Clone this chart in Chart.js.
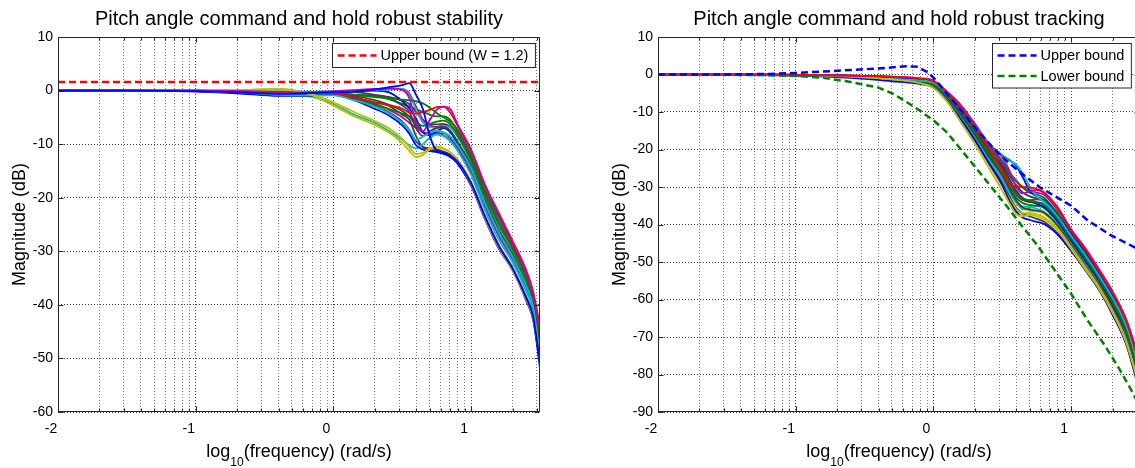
<!DOCTYPE html>
<html>
<head>
<meta charset="utf-8">
<title>Pitch angle command and hold</title>
<script src="https://cdn.jsdelivr.net/npm/chart.js@4.4.0/dist/chart.umd.min.js"></script>
<style>
  html, body { margin: 0; padding: 0; background: #fff; overflow: hidden; }
  body { width: 1135px; height: 468px; position: relative; }
  canvas { position: absolute; top: 0; }
  #stabilityChart { left: 0; }
  #trackingChart { left: 600px; }
</style>
</head>
<body>
<canvas id="stabilityChart" width="575" height="468"></canvas>
<canvas id="trackingChart" width="575" height="468"></canvas>
<script>
// ---- data ----
const xMajorTicks = [-2, -1, 0, 1];
const gridSubdivisions = [2, 3, 4, 5, 6, 7, 8, 9];
const xLabelParts = ['log', '10', '(frequency) (rad/s)'];

const stabilityYTicks = [10, 0, -10, -20, -30, -40, -50, -60];
const trackingYTicks = [10, 0, -10, -20, -30, -40, -50, -60, -70, -80, -90];

// log10(frequency) samples
const stabilityFreq = [-2, -1.5, -1, -0.7, -0.4, -0.2, 0, 0.15, 0.3, 0.4, 0.5, 0.55, 0.6, 0.65, 0.7, 0.75, 0.8, 0.85, 0.9, 1.0, 1.1, 1.2, 1.3, 1.4, 1.45, 1.5];
const stabilityCurves = [
  [0,0,-0.1,-0.3,-0.6,-0.5,-0.3,-0.2,0.2,0.6,1.0,1.4,-0.8,-3.5,-8.5,-11.2,-11.6,-12.2,-13.2,-17.3,-23.5,-29,-33.2,-38.7,-42.2,-50.5],
  [0,0,0,-0.1,-0.3,-0.4,-0.2,0,0.2,0.4,0.1,-1.3,-6.0,-7.6,-5.5,-3.6,-3.0,-3.5,-6.2,-11,-17.5,-22.8,-28,-33.5,-37.5,-44],
  [0,0,0,-0.1,-0.3,-0.4,-0.5,-1.3,-2.2,-2.7,-3.4,-4.1,-4.3,-4.0,-3.6,-3.1,-3.0,-4.2,-6.5,-11.3,-17.8,-23,-28.5,-34,-38,-44.5],
  [0,0,0,0.1,0.3,-0.5,-2.8,-4.8,-6.4,-7.8,-9.8,-11.2,-12.4,-12.0,-11.0,-10.6,-10.9,-11.6,-13.0,-17.5,-23.8,-29.3,-33.5,-39,-42.5,-50],
  [0,0,0,0.1,0.2,-0.4,-2.2,-4.0,-5.7,-7.0,-9.0,-10.5,-11.8,-11.6,-10.8,-10.4,-10.8,-11.5,-12.8,-17.2,-23.5,-29,-33.2,-38.8,-42.2,-49.5],
  [0,0,-0.1,-0.2,-0.3,-0.4,-0.4,-0.8,-1.2,-1.5,-1.7,-1.8,-2.0,-2.4,-3.2,-4.2,-5.0,-5.8,-7.2,-12,-18.3,-23.3,-28.5,-34,-38,-45],
  [0,0,-0.1,-0.3,-0.8,-0.9,-0.9,-1.8,-3.0,-4.2,-6.0,-7.3,-9.2,-8.6,-7.9,-7.5,-7.8,-8.6,-10.2,-14.5,-21,-26.5,-31,-36.5,-40.3,-49.5],
  [0,0,-0.1,-0.2,-0.4,-0.5,-0.5,-0.8,-1.0,-1.3,-2.8,-3.9,-7.0,-8.5,-7.6,-7.0,-6.8,-7.5,-9.5,-14,-20.5,-26,-30.5,-36,-39.8,-48],
  [0,0,-0.2,-0.5,-1.0,-1.0,-0.8,-1.8,-3.4,-4.6,-6.5,-8.0,-10.2,-11.0,-11.3,-11.5,-11.8,-12.4,-13.6,-17.8,-24,-29.5,-33.5,-39.2,-42.8,-51.5],
  [0,0,-0.1,-0.4,-0.9,-1.0,-2.5,-4.5,-6.0,-7.5,-9.2,-10.2,-10.8,-10.0,-8.8,-8.2,-8.5,-9.5,-11.2,-15.8,-22.3,-27.8,-32,-37.5,-41.2,-52],
  [0,0,-0.1,-0.2,-0.4,-0.6,-0.6,-1.5,-2.5,-3.4,-4.3,-4.8,-5.8,-6.6,-6.2,-5.8,-5.6,-6.3,-8.3,-13,-19.5,-24.8,-29.5,-35,-39,-47],
  [0,0,-0.1,-0.3,-0.6,-0.6,-0.6,-1.3,-2.2,-2.8,-4.5,-5.4,-8.5,-10.6,-11.1,-11.3,-11.5,-12.0,-13.0,-17.2,-23.5,-28.8,-33,-38.5,-42,-50.5],
  [0,0,0,0.1,0.2,-0.2,-0.2,0,0.1,0.2,0.3,-0.8,-3.5,-6.0,-6.8,-7.0,-6.6,-6.9,-8.6,-13.5,-20,-25.5,-30,-35.5,-39.5,-48],
  [0,0,0,0,-0.2,-0.3,-0.1,0.1,0.3,0.4,0.3,-0.5,-3.0,-5.5,-6.5,-6.8,-6.5,-6.8,-8.0,-12.8,-19.2,-24.5,-29.3,-34.8,-38.8,-46.5],
  [0,0,-0.1,-0.2,-0.5,-0.4,-0.2,-0.1,0,-0.3,-2.0,-3.3,-5.2,-7.8,-8.3,-7.6,-7.0,-7.8,-9.8,-14.3,-20.8,-26.3,-30.8,-36.3,-40,-48.5],
  [0,0,0,-0.1,-0.3,-0.4,-0.3,-0.3,-0.8,-1.2,-1.8,-2.5,-4.0,-5.5,-6.2,-6.3,-6.2,-6.8,-8.4,-13.2,-19.8,-25,-29.8,-35.3,-39.2,-47],
  [0,0,-0.1,-0.3,-0.7,-0.8,-0.8,-1.5,-2.8,-4.0,-5.8,-7.3,-9.5,-10.5,-10.8,-11.0,-11.4,-12.0,-13.0,-17.3,-23.6,-29,-33.2,-38.8,-42.3,-51],
  [0,0,0,-0.1,-0.3,-0.4,-0.5,-0.8,-1.0,-1.6,-2.5,-3.0,-3.5,-4.0,-4.5,-4.8,-4.8,-5.5,-7.6,-12.4,-18.8,-23.8,-29,-34.5,-38.5,-46],
  [0,0,-0.1,-0.3,-0.6,-0.7,-0.7,-1.2,-2.5,-3.5,-5.0,-6.0,-7.0,-7.8,-8.0,-7.8,-8.4,-9.2,-10.8,-15.2,-21.6,-27,-31.5,-37,-40.8,-50],
  [0,0,-0.1,-0.2,-0.5,-0.6,-0.6,-1.0,-1.8,-2.6,-3.8,-4.8,-6.5,-7.8,-8.2,-8.0,-8.0,-8.8,-10.5,-15,-21.5,-27,-31.3,-36.8,-40.5,-49]
];
const stabilityColors = ['b','m','r','y','y','g','c','k','b','c','g','k','c','m','b','k','k','g','m','k'];
const stabilityBoundFreq = [-2, 1.5];
const stabilityBoundDb = [1.58, 1.58];

const trackingFreq = [-2, -1.5, -1, -0.6, -0.3, -0.1, 0, 0.1, 0.2, 0.3, 0.4, 0.5, 0.55, 0.6, 0.65, 0.7, 0.75, 0.8, 0.9, 1.0, 1.1, 1.2, 1.3, 1.4, 1.5];
const trackingCurves = [
  [0,0,-0.1,-0.3,-0.6,-1.1,-1.8,-5,-8.8,-14,-19.5,-25.5,-29.3,-29.8,-30,-30.1,-30.5,-31.3,-35.5,-41.8,-46.5,-52.3,-58.2,-65.8,-77.5],
  [0,0,-0.1,-0.3,-0.6,-1.0,-1.6,-4.6,-8.2,-13.2,-18.6,-22,-25.5,-30,-31.7,-31.2,-30.8,-31.5,-35.3,-41.3,-46.2,-51.8,-57.8,-65.3,-76.5],
  [0,0,-0.1,-0.5,-1.3,-2.3,-3.6,-7.3,-12.8,-18.5,-24.8,-31,-34.3,-37.2,-37.8,-37.4,-37.8,-38.5,-41.5,-46.5,-51.8,-57,-63.5,-71.5,-84],
  [0,0,-0.2,-0.6,-1.2,-1.6,-2.2,-5,-8.3,-13,-18.2,-21.5,-22.9,-24,-26.5,-30,-32.5,-33.8,-37.8,-43,-48,-53.5,-59.5,-67,-79],
  [0,0,-0.1,-0.4,-0.8,-1.3,-2.0,-4.9,-8.4,-13.2,-18.4,-21.6,-22.8,-24.3,-27.5,-31,-32.5,-33.5,-37.5,-42.5,-47.5,-53,-59,-66.5,-78],
  [0,0,-0.3,-0.9,-1.8,-2.5,-3.5,-7,-12,-17.5,-23.5,-29.5,-33.5,-36.5,-38.2,-38.8,-39.3,-39.8,-42.6,-47,-52,-57.2,-64,-72,-85],
  [0,0,-0.1,-0.3,-0.7,-1.2,-1.8,-4.8,-8.6,-13.5,-19,-23,-26,-28.5,-30.2,-31.5,-32,-32.8,-36.8,-42,-47,-52.5,-58.5,-66,-77.5],
  [0,0,-0.2,-0.5,-1.1,-1.8,-2.6,-5.8,-10,-15.2,-20.8,-25.5,-28.5,-31.5,-33,-33.6,-34,-34.6,-38.3,-43.5,-48.8,-54,-60.5,-68,-80],
  [0,0,-0.1,-0.4,-0.8,-1.3,-2,-5,-8.7,-13.8,-19.3,-23.5,-26,-28.2,-30,-31,-31.5,-32,-36,-41.6,-46.3,-52,-58,-65.5,-77],
  [0,0,-0.2,-0.6,-1.5,-2.4,-3.4,-7,-12.2,-17.8,-23.8,-29.8,-33,-35.8,-37,-37,-37.3,-38,-41,-46,-51.2,-56.5,-63,-71,-83.5],
  [0,0,-0.1,-0.4,-0.9,-1.5,-2.3,-5.6,-9.6,-14.8,-20.3,-25,-28,-31.5,-33.5,-34,-34.2,-34.6,-38.5,-43.8,-49,-54.5,-61,-68.5,-80.5],
  [0,0,-0.2,-0.5,-1.2,-2,-2.9,-6.2,-10.8,-16,-21.8,-27,-30.5,-33.5,-35.5,-36,-36.3,-36.8,-40.2,-45.5,-50.8,-56,-62.5,-70.3,-82.5],
  [0,0,-0.1,-0.3,-0.7,-1.2,-1.9,-5,-8.8,-13.8,-19.2,-23.8,-26.8,-29.5,-31.5,-32.5,-33,-33.4,-37,-42.3,-47.2,-52.7,-58.8,-66.3,-78],
  [0,0,-0.2,-0.6,-1.4,-2.2,-3.1,-6.5,-11.2,-16.5,-22.5,-28,-31.5,-34,-35.2,-35.3,-35.8,-36.5,-40,-45.2,-50.5,-55.8,-62.5,-70,-82.5],
  [0,0,-0.2,-0.5,-1.0,-1.7,-2.4,-5.5,-9.5,-14.5,-20,-24.5,-27.8,-31,-33,-33.8,-34.5,-35.2,-39,-44.3,-49.5,-55,-61.5,-69,-81],
  [0,0,-0.1,-0.4,-0.9,-1.6,-2.5,-5.9,-10.3,-15.6,-21.3,-26.5,-29.8,-32.8,-34.3,-34.8,-35,-35.5,-39.3,-44.6,-50,-55.3,-61.8,-69.5,-81.5],
  [0,0,-0.2,-0.5,-1.1,-1.7,-2.5,-5.7,-9.9,-15,-20.6,-25.8,-29,-32,-33.5,-33.5,-33.3,-33.8,-37.8,-43,-48.3,-53.8,-60,-67.5,-79.5],
  [0,0,-0.1,-0.4,-1,-1.7,-2.7,-6,-10.6,-15.8,-21.5,-26.8,-30.2,-33.8,-36,-35.5,-35,-35.4,-39,-44.5,-49.8,-55.2,-61.8,-69.3,-81.5],
  [0,0,-0.2,-0.6,-1.3,-2.2,-3.2,-6.8,-11.8,-17.2,-23.2,-28.8,-32.3,-35.5,-37.2,-37.8,-38.5,-39.2,-42.3,-47,-52,-57.3,-63.8,-71.8,-84.5],
  [0,0,-0.1,-0.4,-1.1,-1.9,-2.9,-6.3,-11,-16.5,-22.3,-28,-31.3,-34.3,-35.8,-36.3,-36.5,-37,-40.5,-45.8,-51,-56.2,-62.7,-70.5,-83]
];
const trackingColors = ['r','m','y','c','b','b','g','g','m','y','k','k','k','c','b','g','m','c','k','y'];

const upperBoundFreq = [-2, -1.5, -1.2, -1, -0.8, -0.6, -0.4, -0.2, -0.12, -0.04, 0.02, 0.08, 0.2, 0.32, 0.47, 0.61, 0.77, 1.0, 1.12, 1.28, 1.44, 1.5];
const upperBoundDb = [0, 0, 0.15, 0.4, 0.8, 1.2, 1.6, 2.2, 2.1, 0.6, -1.6, -4.3, -9.5, -15, -21, -25.5, -30, -35, -38.9, -42.7, -45.7, -46.7];
const lowerBoundFreq = [-2, -1.5, -1.2, -1, -0.8, -0.6, -0.4, -0.3, -0.2, -0.1, 0, 0.1, 0.2, 0.3, 0.42, 0.53, 0.635, 0.756, 0.83, 1.0, 1.12, 1.24, 1.35, 1.44, 1.5];
const lowerBoundDb = [0, -0.05, -0.2, -0.4, -0.9, -2.0, -3.5, -5, -7.2, -9.6, -12.2, -15.5, -20, -24.5, -30, -35, -40, -45.6, -49.5, -58.5, -65.6, -72, -78.5, -84.4, -88.5];

// ---- styling ----
const FONT = '"Liberation Sans", Arial, Helvetica, sans-serif';
const AXIS_COLOR = '#262626';
const lineColors = { b: '#0000FF', g: '#008000', r: '#FF0000', c: '#00BFBF', m: '#BF00BF', y: '#BFBF00', k: '#404040' };

Chart.defaults.font.family = FONT;
Chart.defaults.color = '#000';

function logGrid(min, max) {
    const vals = [];
    xMajorTicks.forEach(d => {
        if (d >= min && d <= max) vals.push(d);
        gridSubdivisions.forEach(k => {
            const v = d + Math.log10(k);
            if (v > min && v <= max) vals.push(v);
        });
    });
    return vals;
}

const toPoints = (xs, ys) => xs.map((x, i) => ({ x: x, y: ys[i] }));

// draws the MATLAB-ish box, inner ticks, title, x label with subscript and legend
const matlabAxes = {
    id: 'matlabAxes',
    afterDraw(chart, args, opts) {
        const { ctx, chartArea: a, scales } = chart;
        const L = Math.round(a.left) + 0.5, R = Math.round(a.right) - 0.5;
        const T = Math.round(a.top) + 0.5, B = Math.round(a.bottom) - 0.5;
        ctx.save();
        ctx.setLineDash([]);
        ctx.strokeStyle = AXIS_COLOR;
        ctx.lineWidth = 1;
        ctx.beginPath();
        ctx.rect(L, T, R - L, B - T);
        scales.x.ticks.forEach(t => {
            const px = Math.round(scales.x.getPixelForValue(t.value)) + 0.5;
            const len = Number.isInteger(t.value) ? 5 : 3;
            ctx.moveTo(px, B); ctx.lineTo(px, B - len);
            ctx.moveTo(px, T); ctx.lineTo(px, T + len);
        });
        scales.y.ticks.forEach(t => {
            const py = Math.round(scales.y.getPixelForValue(t.value)) + 0.5;
            ctx.moveTo(L, py); ctx.lineTo(L + 5, py);
            ctx.moveTo(R, py); ctx.lineTo(R - 5, py);
        });
        ctx.stroke();

        // title
        const cx = (a.left + a.right) / 2;
        ctx.fillStyle = '#000';
        ctx.textBaseline = 'alphabetic';
        ctx.textAlign = 'left';
        ctx.font = '20px ' + FONT;
        const tw = ctx.measureText(opts.title).width;
        ctx.fillText(opts.title, cx - tw / 2, 25);

        // x label: log_10(frequency) (rad/s)
        ctx.font = '18px ' + FONT;
        const w1 = ctx.measureText(xLabelParts[0]).width;
        const w3 = ctx.measureText(xLabelParts[2]).width;
        ctx.font = '12px ' + FONT;
        const w2 = ctx.measureText(xLabelParts[1]).width;
        let sx = cx - (w1 + w2 + w3) / 2;
        ctx.font = '18px ' + FONT;
        ctx.fillText(xLabelParts[0], sx, 457);
        ctx.font = '12px ' + FONT;
        ctx.fillText(xLabelParts[1], sx + w1, 466);
        ctx.font = '18px ' + FONT;
        ctx.fillText(xLabelParts[2], sx + w1 + w2, 457);

        // legend
        const lg = opts.legend;
        ctx.font = '14.5px ' + FONT;
        const textW = Math.max(...lg.items.map(it => ctx.measureText(it.label).width));
        const boxW = 48 + textW + 7;
        const rowH = 20.5;
        const boxH = lg.items.length * rowH + 3.5;
        const bx = Math.round(a.right - lg.rightGap - boxW) + 0.5;
        const by = Math.round(a.top + 6) + 0.5;
        ctx.fillStyle = '#fff';
        ctx.fillRect(bx, by, boxW, boxH);
        ctx.strokeStyle = AXIS_COLOR;
        ctx.lineWidth = 1;
        ctx.strokeRect(bx, by, boxW, boxH);
        lg.items.forEach((it, i) => {
            const ry = by + 12 + i * rowH;
            ctx.strokeStyle = it.color;
            ctx.lineWidth = 2.5;
            ctx.setLineDash([7, 4]);
            ctx.beginPath();
            ctx.moveTo(bx + 5, ry); ctx.lineTo(bx + 44, ry);
            ctx.stroke();
            ctx.setLineDash([]);
            ctx.fillStyle = '#000';
            ctx.textBaseline = 'middle';
            ctx.fillText(it.label, bx + 48, ry + 0.5);
        });
        ctx.restore();
    }
};

function makeChart(canvasId, cfg) {
    const datasets = cfg.bounds.map(b => ({
        data: toPoints(b.freq, b.db),
        borderColor: b.color,
        borderWidth: 2.5,
        borderDash: [7, 4],
        pointRadius: 0,
        fill: false,
        tension: 0
    }));
    cfg.curves.forEach((c, i) => {
        datasets.push({
            data: toPoints(cfg.freq, c),
            borderColor: lineColors[cfg.colors[i]],
            borderWidth: 1.8,
            pointRadius: 0,
            fill: false,
            cubicInterpolationMode: 'monotone'
        });
    });

    return new Chart(document.getElementById(canvasId), {
        type: 'line',
        data: { datasets: datasets },
        plugins: [matlabAxes],
        options: {
            responsive: false,
            animation: false,
            events: [],
            layout: { padding: { left: 0, right: 35, top: 37, bottom: 0 } },
            scales: {
                x: {
                    type: 'linear',
                    min: -2,
                    max: 1.5,
                    afterBuildTicks: s => { s.ticks = logGrid(-2, 1.5).map(v => ({ value: v })); },
                    afterFit: s => { s.height = 56; },
                    ticks: {
                        autoSkip: false,
                        maxRotation: 0,
                        minRotation: 0,
                        padding: 9,
                        labelOffset: -7,
                        font: { size: 14 },
                        callback: v => Number.isInteger(v) ? String(v) : ''
                    },
                    grid: {
                        drawTicks: false,
                        color: c => (c.tick && Number.isInteger(c.tick.value)) ? 'rgba(0,0,0,0.75)' : 'rgba(0,0,0,0.5)'
                    },
                    border: { display: false, dash: [1, 2] }
                },
                y: {
                    min: cfg.yTicks[cfg.yTicks.length - 1],
                    max: cfg.yTicks[0],
                    afterBuildTicks: s => { s.ticks = cfg.yTicks.map(v => ({ value: v })); },
                    afterFit: s => { s.width = 58; },
                    ticks: { padding: 5, font: { size: 14 } },
                    grid: { drawTicks: false, color: 'rgba(0,0,0,0.75)' },
                    border: { display: false, dash: [1, 2] },
                    title: { display: true, text: 'Magnitude (dB)', font: { size: 18 }, padding: { top: 9 } }
                }
            },
            plugins: {
                legend: { display: false },
                tooltip: { enabled: false },
                matlabAxes: { title: cfg.title, legend: cfg.legend }
            }
        }
    });
}

makeChart('stabilityChart', {
    title: 'Pitch angle command and hold robust stability',
    freq: stabilityFreq,
    curves: stabilityCurves,
    colors: stabilityColors,
    yTicks: stabilityYTicks,
    bounds: [{ freq: stabilityBoundFreq, db: stabilityBoundDb, color: '#FF0000' }],
    legend: { rightGap: 5, items: [{ label: 'Upper bound (W = 1.2)', color: '#FF0000' }] }
});

makeChart('trackingChart', {
    title: 'Pitch angle command and hold robust tracking',
    freq: trackingFreq,
    curves: trackingCurves,
    colors: trackingColors,
    yTicks: trackingYTicks,
    bounds: [
        { freq: upperBoundFreq, db: upperBoundDb, color: '#0000FF' },
        { freq: lowerBoundFreq, db: lowerBoundDb, color: '#008000' }
    ],
    legend: {
        rightGap: 9,
        items: [
            { label: 'Upper bound', color: '#0000FF' },
            { label: 'Lower bound', color: '#008000' }
        ]
    }
});
</script>
</body>
</html>
